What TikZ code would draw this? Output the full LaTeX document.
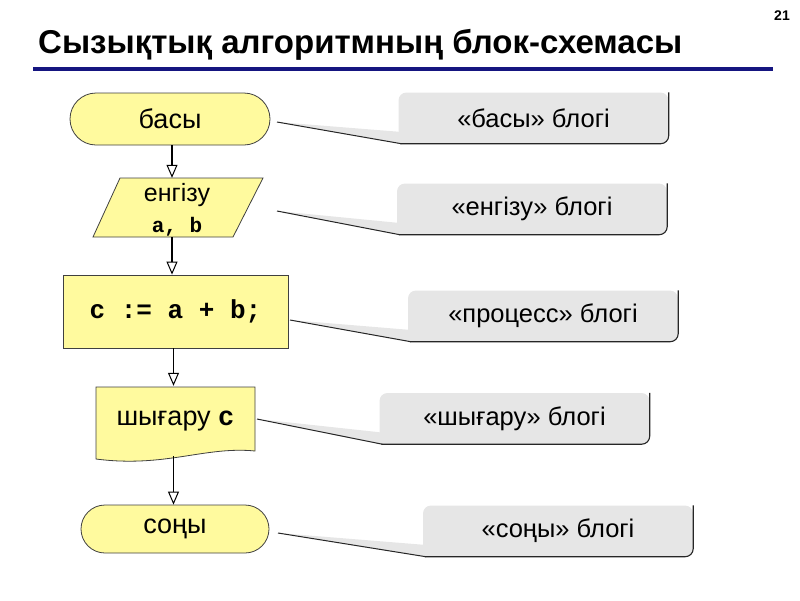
\documentclass[tikz,border=0pt]{standalone}
\usepackage{fontspec}
\setmainfont{Liberation Sans}
\setmonofont{Liberation Mono}
\usetikzlibrary{arrows.meta,shapes.misc}
\definecolor{nodeyellow}{HTML}{FFFA9E}
\definecolor{calloutgray}{HTML}{E6E6E6}
\definecolor{navyline}{HTML}{151580}
\begin{document}
\begin{tikzpicture}[x=1pt,y=-1pt,
  outline/.style={draw=black!75, line width=0.8pt, fill=nodeyellow},
  term/.style={rounded rectangle, outline, inner sep=0pt, font=\fontsize{27}{31}\selectfont},
  proc/.style={rectangle, outline, inner sep=0pt, font=\ttfamily\bfseries\fontsize{26}{30}\selectfont},
  txt/.style={inner sep=0pt},
  cbox/.style={rectangle, rounded corners=8pt, fill=calloutgray, inner sep=0pt,
    minimum width=270pt, minimum height=51pt, font=\fontsize{25.5}{29}\selectfont},
  flow/.style={-{Triangle[open,width=11pt,length=13pt,line width=1pt]}, line width=1.5pt, black},
  edgeline/.style={draw=black!85, line width=1.1pt},
  tipline/.style={draw=black!85, line width=1pt}
]
\useasboundingbox (0,0) rectangle (800,600);

% title
\node[anchor=base west, inner sep=0pt, font=\bfseries\fontsize{33}{36}\selectfont] (title) at (38,53) {Сызықтық алгоритмның блок-схемасы};
\node[anchor=base east, inner sep=0pt, font=\bfseries\fontsize{14}{16}\selectfont] (page) at (790,20) {21};
\coordinate (ruleL) at (33,69);
\coordinate (ruleR) at (773,69);
\draw[navyline, line width=3.5pt] (ruleL) -- (ruleR);

% flowchart
\node[term, minimum width=200pt, minimum height=52pt] (bas) at (170,119) {басы};

\draw[outline] (120,178) -- (263,178) -- (233,237) -- (93,237) -- cycle;
\node[txt, minimum width=140pt, minimum height=59pt] (in) at (177,207.5) {};
\node[txt, anchor=base, font=\fontsize{25}{29}\selectfont] (inA) at (in.center |- 0,201) {енгізу};
\node[txt, anchor=base, font=\ttfamily\bfseries\fontsize{21}{24}\selectfont] (inB) at (in.center |- 0,232) {a, b};

\node[proc, minimum width=225pt, minimum height=73pt] (proc) at (175.5,311.5) {c := a + b;};

\draw[outline] (96,387) -- (255,387) -- (255,451) .. controls (205,446) and (165,468) .. (96,459) -- cycle;
\node[txt, minimum width=159pt, minimum height=70pt, font=\fontsize{27}{31}\selectfont] (out) at (175.5,421)
  {шығару {\ttfamily\bfseries\fontsize{27}{31}\selectfont c}};

\node[term, minimum width=188pt, minimum height=48pt] (son) at (175,529) {соңы};

\draw[flow] ([xshift=2pt]bas.south) -- ([xshift=2pt]bas.south |- in.north);
\draw[flow] ([xshift=-5pt]in.south) -- ([xshift=-5pt]in.south |- proc.north);
\draw[flow] ([xshift=-2pt]proc.south) -- ([xshift=-2pt]proc.south |- out.north);
\draw[flow] ([xshift=-2pt]out.south) -- ([xshift=-2pt]out.south |- son.north);

% callouts
\node[cbox] (cb1) at (533.5,118) {«басы» блогі};
\node[cbox] (cb2) at (532,209) {«енгізу» блогі};
\node[cbox] (cb3) at (543,316) {«процесс» блогі};
\node[cbox] (cb4) at (514.5,418.5) {«шығару» блогі};
\node[cbox] (cb5) at (558,531) {«соңы» блогі};

\coordinate (t1) at (277,122);
\coordinate (t2) at (277,211);
\coordinate (t3) at (290,320);
\coordinate (t4) at (257,419);
\coordinate (t5) at (278,533);

\foreach \i in {1,...,5}{
  \fill[calloutgray] (t\i) -- ([yshift=12pt]cb\i.south west) -- ([xshift=10pt]cb\i.south west) -- (cb\i.south west) -- cycle;
  \draw[edgeline, rounded corners=8pt] ([xshift=2pt]cb\i.south west) -- (cb\i.south east) -- (cb\i.north east);
  \draw[tipline] (t\i) -- ([xshift=3pt]cb\i.south west);
}
\end{tikzpicture}
\end{document}
